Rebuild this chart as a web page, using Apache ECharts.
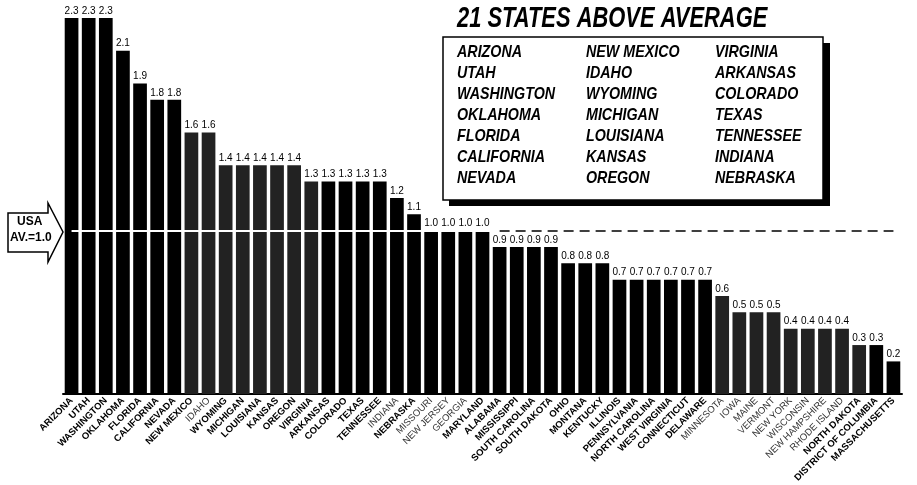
<!DOCTYPE html>
<html>
<head>
<meta charset="utf-8">
<script src="https://cdn.jsdelivr.net/npm/echarts@6/dist/echarts.min.js"></script>
<style>
  html, body { margin: 0; padding: 0; background: #fff; }
  #main { width: 917px; height: 485px; }
</style>
</head>
<body>
<div id="main"></div>
<script>
var states = ['ARIZONA', 'UTAH', 'WASHINGTON', 'OKLAHOMA', 'FLORIDA', 'CALIFORNIA', 'NEVADA',
    'NEW MEXICO', 'IDAHO', 'WYOMING', 'MICHIGAN', 'LOUISIANA', 'KANSAS', 'OREGON',
    'VIRGINIA', 'ARKANSAS', 'COLORADO', 'TEXAS', 'TENNESSEE', 'INDIANA', 'NEBRASKA',
    'MISSOURI', 'NEW JERSEY', 'GEORGIA', 'MARYLAND', 'ALABAMA', 'MISSISSIPPI',
    'SOUTH CAROLINA', 'SOUTH DAKOTA', 'OHIO', 'MONTANA', 'KENTUCKY', 'ILLINOIS',
    'PENNSYLVANIA', 'NORTH CAROLINA', 'WEST VIRGINIA', 'CONNECTICUT', 'DELAWARE',
    'MINNESOTA', 'IOWA', 'MAINE', 'VERMONT', 'NEW YORK', 'WISCONSIN', 'NEW HAMPSHIRE',
    'RHODE ISLAND', 'NORTH DAKOTA', 'DISTRICT OF COLUMBIA', 'MASSACHUSETTS'];
var ratio = [2.3, 2.3, 2.3, 2.1, 1.9, 1.8, 1.8,
    1.6, 1.6, 1.4, 1.4, 1.4, 1.4, 1.4,
    1.3, 1.3, 1.3, 1.3, 1.3, 1.2, 1.1,
    1.0, 1.0, 1.0, 1.0, 0.9, 0.9,
    0.9, 0.9, 0.8, 0.8, 0.8, 0.7,
    0.7, 0.7, 0.7, 0.7, 0.7,
    0.6, 0.5, 0.5, 0.5, 0.4, 0.4, 0.4,
    0.4, 0.3, 0.3, 0.2];
var usaAverage = 1.0;
// bars printed with a grey speckle, and labels printed light
var speckled = ['NEW MEXICO', 'IDAHO', 'WYOMING', 'MICHIGAN', 'LOUISIANA', 'KANSAS', 'OREGON', 'VIRGINIA',
    'MINNESOTA', 'IOWA', 'MAINE', 'VERMONT', 'NEW YORK', 'WISCONSIN', 'NEW HAMPSHIRE', 'RHODE ISLAND', 'NORTH DAKOTA'];
var lightLabels = ['IDAHO', 'INDIANA', 'MISSOURI', 'NEW JERSEY', 'GEORGIA', 'MINNESOTA', 'IOWA', 'MAINE',
    'VERMONT', 'NEW YORK', 'WISCONSIN', 'NEW HAMPSHIRE', 'RHODE ISLAND'];

var barData = ratio.map(function (v, i) {
    return {
        value: v,
        itemStyle: { color: speckled.indexOf(states[i]) == -1 ? '#000' : '#222' }
    };
});

// legend box: states above the USA average, 3 columns of 7
var above = states.filter(function (s, i) { return ratio[i] > usaAverage; });
var boxText = [];
above.forEach(function (s, i) {
    var col = Math.floor(i / 7), row = i % 7;
    boxText.push({
        type: 'text', x: 457 + col * 129, y: 44 + row * 21, scaleX: 0.84, z: 20,
        style: { text: s, font: 'italic bold 17px "Liberation Sans", sans-serif', fill: '#000' }
    });
});

var myChart = echarts.init(document.getElementById('main'));
var option = {
    animation: false,
    backgroundColor: '#fff',
    grid: { left: 63, right: 15, top: 18, bottom: 88 },
    xAxis: {
        type: 'category',
        data: states,
        axisLine: { show: true, lineStyle: { color: '#000', width: 2 } },
        axisTick: { show: false },
        axisLabel: {
            interval: 0,
            rotate: 45,
            margin: 5,
            formatter: function (value) {
                return lightLabels.indexOf(value) == -1 ? '{b|' + value + '}' : '{l|' + value + '}';
            },
            rich: {
                b: { fontFamily: 'Liberation Sans', fontWeight: 'bold', fontSize: 9.5, color: '#000' },
                l: { fontFamily: 'Liberation Sans', fontWeight: 'normal', fontSize: 9.5, color: '#333' }
            }
        }
    },
    yAxis: {
        type: 'value',
        min: 0,
        max: 2.3,
        show: false,
        splitLine: { show: false }
    },
    series: [{
        type: 'bar',
        data: barData,
        barCategoryGap: '20%',
        label: {
            show: true,
            position: 'top',
            distance: 2,
            fontFamily: 'Liberation Sans',
            fontSize: 10,
            color: '#000',
            formatter: function (p) { return p.value.toFixed(1); }
        },
        markLine: {
            silent: true,
            symbol: ['none', 'none'],
            label: { show: false },
            data: [
                [{ coord: [0, usaAverage], lineStyle: { color: '#fff', width: 2, type: 'solid' } },
                 { coord: [25, usaAverage] }],
                [{ coord: [25, usaAverage], lineStyle: { color: '#000', width: 1.5, type: [10, 6] } },
                 { coord: [states.length - 1, usaAverage] }]
            ]
        }
    }],
    graphic: [
        // USA average arrow
        {
            type: 'polygon', z: 20,
            shape: { points: [[8, 213], [48, 213], [48, 203], [63, 232], [48, 262], [48, 252], [8, 252]] },
            style: { fill: '#fff', stroke: '#000', lineWidth: 1.5 }
        },
        {
            type: 'text', left: 17, top: 216, z: 21,
            style: { text: 'USA', font: 'bold 12px "Liberation Sans", sans-serif', fill: '#000' }
        },
        {
            type: 'text', left: 10, top: 232, z: 21,
            style: { text: 'AV.=1.0', font: 'bold 12px "Liberation Sans", sans-serif', fill: '#000' }
        },
        // title and box
        {
            type: 'text', x: 457, y: 4, scaleX: 0.73, z: 20,
            style: { text: '21 STATES ABOVE AVERAGE', font: 'italic bold 30px "Liberation Sans", sans-serif', fill: '#000' }
        },
        {
            type: 'rect', z: 18,
            shape: { x: 449, y: 43, width: 381, height: 163 },
            style: { fill: '#000' }
        },
        {
            type: 'rect', z: 19,
            shape: { x: 443, y: 37, width: 380, height: 163 },
            style: { fill: '#fff', stroke: '#000', lineWidth: 1.5 }
        }
    ].concat(boxText)
};
myChart.setOption(option);
</script>
</body>
</html>
